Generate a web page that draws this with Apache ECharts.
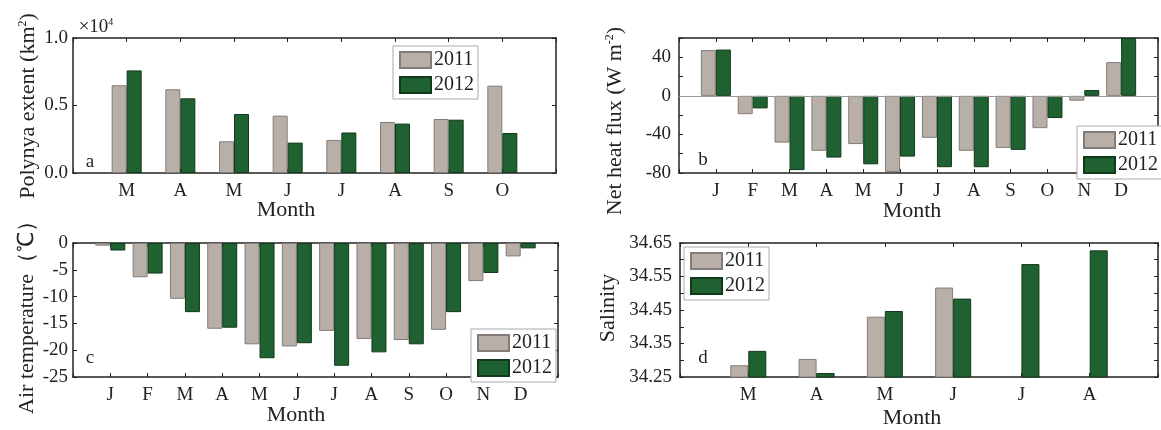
<!DOCTYPE html>
<html><head><meta charset="utf-8">
<script src="https://cdn.jsdelivr.net/npm/echarts@6/dist/echarts.min.js"></script>
<style>html,body{margin:0;padding:0;background:#fff}#c{width:1161px;height:430px}</style>
</head><body><div id="c"></div>
<script>
// ---- data ----
const monthsA = ['M','A','M','J','J','A','S','O'];
const polynya2011 = [0.65,0.62,0.235,0.425,0.245,0.378,0.40,0.647];
const polynya2012 = [0.76,0.553,0.437,0.225,0.30,0.366,0.395,0.296];

const monthsB = ['J','F','M','A','M','J','J','A','S','O','N','D'];
const flux2011 = [47.5,-19,-48.5,-57,-50,-79,-43.5,-57,-54,-33.5,-5,35];
const flux2012 = [48,-13,-77,-64,-71,-63,-74,-74,-56,-23,6,60];

const monthsC = ['J','F','M','A','M','J','J','A','S','O','N','D'];
const temp2011 = [-0.5,-6.4,-10.4,-16,-18.9,-19.3,-16.4,-17.9,-18.1,-16.2,-7.1,-2.5];
const temp2012 = [-1.4,-5.7,-12.9,-15.8,-21.5,-18.7,-22.9,-20.4,-18.9,-12.9,-5.6,-1.0];

const monthsD = ['M','A','M','J','J','A'];
const sal2011 = [34.285,34.304,34.43,34.517,null,null];
const sal2012 = [34.328,34.262,34.447,34.484,34.587,34.628];

const yearNames = ['2011','2012'];

// ---- styles ----
const FONT = "'Liberation Serif','Times New Roman',serif";
const INK = '#222';
const C2011 = '#b9afa9', B2011 = '#857c77';
const C2012 = '#1f6131', B2012 = '#11391b';

const chart = echarts.init(document.getElementById('c'));

const panels = [
  {cats: monthsA, s1: polynya2011, s2: polynya2012, grid:{left:73, top:38, width:483, height:135},
   y:{min:0, max:1, interval:0.5, fmt:v=>v.toFixed(1), margin:5}, bw:15},
  {cats: monthsB, s1: flux2011, s2: flux2012, grid:{left:679, top:38, width:485, height:135},
   y:{min:-80, max:60, interval:20, fmt:v=>(Math.round(v)%40===0? String(Math.round(v)) : ''), margin:8}, bw:15, zero:true},
  {cats: monthsC, s1: temp2011, s2: temp2012, grid:{left:73, top:243, width:485, height:134},
   y:{min:-25, max:0, interval:5, fmt:v=>String(Math.round(v)), margin:5}, bw:15},
  {cats: monthsD, s1: sal2011, s2: sal2012, grid:{left:680, top:243, width:486, height:134},
   y:{min:34.25, max:34.65, interval:0.05, fmt:v=>(Math.round((v-34.25)/0.05)%2===0? v.toFixed(2):''), margin:8}, bw:18}
];

const grid=[], xAxis=[], yAxis=[], series=[];
const lineStyle = {color: INK, width: 1.5};
panels.forEach((p,gi)=>{
  grid.push(p.grid);
  const n = p.cats.length;
  const base = {type:'value', gridIndex:gi, min:0, max:n+1, interval:1,
    axisLine:{show:true, onZero:false, lineStyle},
    axisTick:{show:true, inside:true, length:4, lineStyle:{color:INK, width:1}},
    splitLine:{show:false}};
  xAxis.push(Object.assign({}, base, {position:'bottom',
    axisLabel:{show:true, margin:9, fontSize:19, color:INK, fontFamily:FONT,
      formatter:v=>{const i=Math.round(v); return (Math.abs(v-i)<1e-6 && i>=1 && i<=n)? p.cats[i-1] : '';}}}));
  xAxis.push(Object.assign({}, base, {position:'top', axisLabel:{show:false}}));
  const ybase = {type:'value', gridIndex:gi, min:p.y.min, max:p.y.max, interval:p.y.interval,
    axisLine:{show:true, onZero:false, lineStyle},
    axisTick:{show:true, inside:true, length:4, lineStyle:{color:INK, width:1}},
    splitLine:{show:false}};
  yAxis.push(Object.assign({}, ybase, {position:'left',
    axisLabel:{show:true, margin:p.y.margin, fontSize:19, color:INK, fontFamily:FONT, formatter:p.y.fmt, showMinLabel:true, showMaxLabel:true}}));
  yAxis.push(Object.assign({}, ybase, {position:'right', axisLabel:{show:false}}));
  const mk = (arr)=>arr.map((v,i)=>[i+1,v]).filter(d=>d[1]!==null);
  series.push({type:'bar', name:yearNames[0], xAxisIndex:gi*2, yAxisIndex:gi*2, data:mk(p.s1),
    barWidth:p.bw, barGap:'0%', itemStyle:{color:C2011, borderColor:B2011, borderWidth:1}, z:2,
    markLine: p.zero ? {silent:true, symbol:['none','none'], label:{show:false},
      lineStyle:{color:'#999', width:1, type:'solid'}, data:[{yAxis:0}]} : undefined});
  series.push({type:'bar', name:yearNames[1], xAxisIndex:gi*2, yAxisIndex:gi*2, data:mk(p.s2),
    barWidth:p.bw, barGap:'0%', itemStyle:{color:C2012, borderColor:B2012, borderWidth:1}, z:2});
});

const legendPos = [[393,46],[1077,126],[471,329],[684,247]];
const legend = legendPos.map(([l,t])=>({left:l, top:t, orient:'vertical', data:yearNames,
  icon:'rect', itemWidth:31, itemHeight:16, itemGap:5, padding:[4,4,4,6],
  borderColor:'#aaa', borderWidth:1, backgroundColor:'#fff',
  textStyle:{fontSize:20, color:INK, fontFamily:FONT, padding:[0,0,0,-2]}, selectedMode:false}));

const txt = (text,x,y,size,rot)=>({type:'text', x, y, rotation: rot||0,
  style:{text, fontSize:size, fontFamily:FONT, fill:INK, align:'center', verticalAlign:'middle',
    rich:{sup:{fontSize:Math.round(size*0.55), verticalAlign:'top', fontFamily:FONT, fill:INK, padding:[0,0,8,0]}}}});

const graphic = [
  txt('×10{sup|4}', 96, 27, 19),
  txt('a', 90, 162, 19), txt('b', 703, 160, 19), txt('c', 90, 358, 19), txt('d', 703, 358, 19),
  txt('Month', 286, 210, 22), txt('Month', 912, 211, 22), txt('Month', 296, 415, 22), txt('Month', 912, 418, 22),
  txt('Polynya extent (km{sup|2})', 28, 106, 22, Math.PI/2),
  txt('Net heat flux (W m{sup|-2})', 615, 121, 22, Math.PI/2),
  txt('Air temperature（℃）', 27, 312, 22, Math.PI/2),
  txt('Salinity', 608, 308, 22, Math.PI/2)
];

chart.setOption({animation:false, textStyle:{fontFamily:FONT}, grid, xAxis, yAxis, series, legend, graphic});
</script></body></html>
